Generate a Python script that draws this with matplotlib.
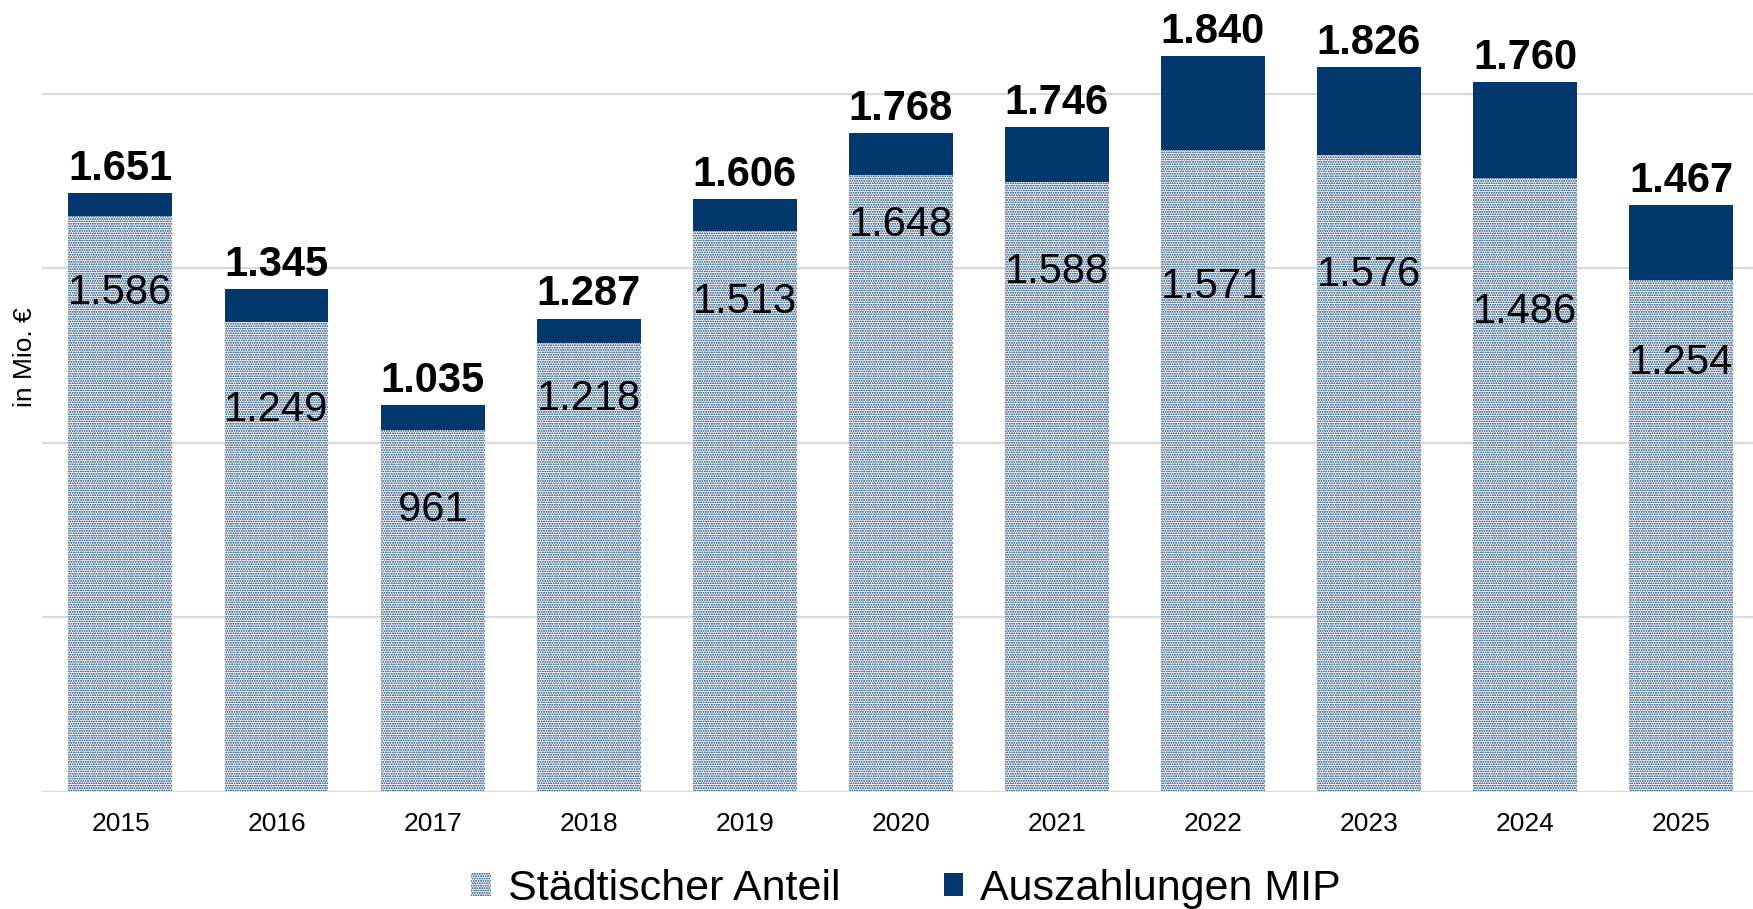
import numpy as np
import matplotlib
matplotlib.use('Agg')
import matplotlib.pyplot as plt
from matplotlib.patches import Patch

# data
years = ['2015', '2016', '2017', '2018', '2019', '2020', '2021', '2022', '2023', '2024', '2025']
gesamt = [1651, 1345, 1035, 1287, 1606, 1768, 1746, 1840, 1826, 1760, 1467]
staedtisch = [1586, 1249, 961, 1218, 1513, 1648, 1588, 1571, 1576, 1486, 1254]

# where the inner labels sit (in axis units), as in the original layout
inner_label_pos = [1429, 1094, 807, 1125, 1403, 1624, 1489, 1447, 1481, 1375, 1228]

BLUE = '#02386E'
GRID = '#d9d9d9'

plt.rcParams['font.family'] = ['Liberation Sans', 'DejaVu Sans']
plt.rcParams['hatch.linewidth'] = 0.9
plt.rcParams['hatch.color'] = BLUE


def fmt(v):
    return f"{v:,}".replace(',', '.')


gesamt = np.array(gesamt)
staedtisch = np.array(staedtisch)
mip = gesamt - staedtisch
x = np.arange(len(years))

fig = plt.figure(figsize=(17.53, 9.09), dpi=100)
ax = fig.add_axes([0.0242, 0.1292, 0.9793, 0.8443])

ax.bar(x, gesamt, width=0.666, facecolor='white', edgecolor=BLUE,
       hatch='.......', linewidth=0, zorder=2)
ax.bar(x, mip, bottom=gesamt, width=0.666, color=BLUE, linewidth=0, zorder=2)

for i in range(len(years)):
    ax.annotate(fmt(gesamt[i]), (x[i], gesamt[i] + mip[i]), xytext=(0, 3),
                textcoords='offset points', ha='center', va='bottom',
                fontsize=30, fontweight='bold', color='black', zorder=4)
    ax.text(x[i], inner_label_pos[i], fmt(staedtisch[i]), ha='center', va='center',
            fontsize=30, color='black', zorder=4)

ax.set_xlim(-0.5, 10.5)
ax.set_ylim(0, 2200)
ax.set_yticks([0, 500, 1000, 1500, 2000])
ax.set_yticklabels([])
ax.set_xticks(x)
ax.set_xticklabels(years, fontsize=19)
ax.tick_params(axis='both', length=0)
ax.tick_params(axis='x', pad=15)
ax.grid(axis='y', color=GRID, linewidth=1.6, zorder=0)
for s in ax.spines.values():
    s.set_visible(False)

fig.text(0.014, 0.607, 'in Mio. €', rotation=90, ha='center', va='center', fontsize=19)

handles = [Patch(facecolor='white', edgecolor=BLUE, hatch='.......', linewidth=0),
           Patch(facecolor=BLUE, linewidth=0)]
fig.legend(handles, ['Städtischer Anteil', 'Auszahlungen MIP'], loc='center',
           bbox_to_anchor=(0.517, 0.022), ncol=2, frameon=False, fontsize=31,
           handlelength=0.45, handleheight=0.45, handletextpad=0.4, columnspacing=2.4)

fig.savefig('out.png', dpi=100)
